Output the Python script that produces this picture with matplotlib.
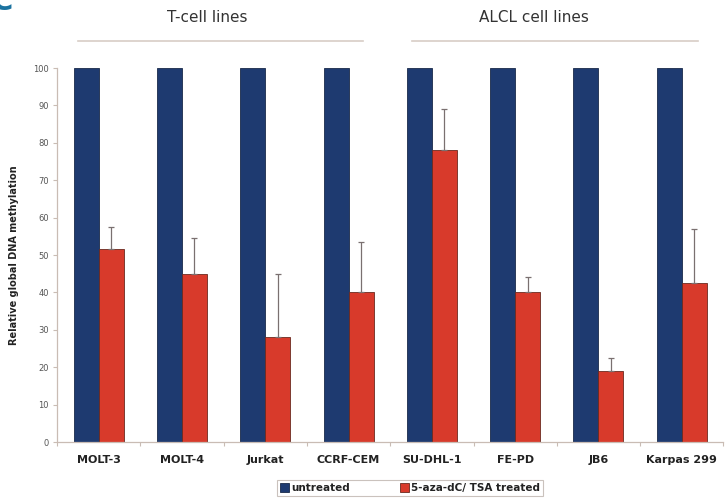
import numpy as np
import matplotlib.pyplot as plt
from matplotlib.lines import Line2D

cell_lines = ["MOLT-3", "MOLT-4", "Jurkat", "CCRF-CEM",
              "SU-DHL-1", "FE-PD", "JB6", "Karpas 299"]
untreated = [100, 100, 100, 100, 100, 100, 100, 100]
treated = [51.5, 45, 28, 40, 78, 40, 19, 42.5]
treated_err = [6, 9.5, 17, 13.5, 11, 4, 3.5, 14.5]
groups = ["T-cell lines", "ALCL cell lines"]

W, H = 728, 498
fig = plt.figure(figsize=(W / 100, H / 100), dpi=100)
ax = fig.add_axes([57 / W, 1 - 442 / H, 666.4 / W, 374 / H])

x = np.arange(len(cell_lines))
bw = 0.3
axis_col = "#c9bcb4"

ax.bar(x - bw / 2, untreated, bw, color="#1e3a70", edgecolor="#1a2a4a",
       linewidth=0.6, label="untreated", zorder=2)
ax.bar(x + bw / 2, treated, bw, color="#d83a2b", edgecolor="#6a2a20",
       linewidth=0.6, label="5-aza-dC/ TSA treated", zorder=2)
ax.errorbar(x + bw / 2, treated, yerr=[np.zeros(len(treated)), treated_err],
            fmt="none", ecolor="#7a7070", elinewidth=0.9, capsize=2,
            capthick=0.9, zorder=3)

ax.set_xlim(-0.5, len(cell_lines) - 0.5)
ax.set_ylim(0, 100)
ax.set_yticks(range(0, 101, 10))
ax.tick_params(axis="y", labelsize=6, colors=axis_col, labelcolor="#555555",
               length=3, width=0.8, pad=3)
ax.set_xticks(x)
ax.set_xticklabels(cell_lines, fontsize=8, fontweight="bold", color="#222222")
ax.tick_params(axis="x", length=0, pad=9)
ax.set_xticks(np.arange(-0.5, len(cell_lines), 1), minor=True)
ax.tick_params(axis="x", which="minor", length=3, width=0.8, colors=axis_col)

for s in ["top", "right"]:
    ax.spines[s].set_visible(False)
for s in ["left", "bottom"]:
    ax.spines[s].set_color(axis_col)
    ax.spines[s].set_linewidth(0.9)

ax.set_ylabel("Relative global DNA methylation", fontsize=7, fontweight="bold",
              color="#222222", labelpad=10)

# group headers with lines
fig.text(207 / W, 1 - 18 / H, groups[0], ha="center", va="center",
         fontsize=11, color="#333333")
fig.text(534 / W, 1 - 18 / H, groups[1], ha="center", va="center",
         fontsize=11, color="#333333")
fig.add_artist(Line2D([78 / W, 363 / W], [1 - 41 / H] * 2, color="#d8cdc6", lw=1.2))
fig.add_artist(Line2D([412 / W, 698 / W], [1 - 41 / H] * 2, color="#d8cdc6", lw=1.2))

# panel letter, cropped at the top-left corner like in the source
fig.text(2 / W, 1 - 10 / H, "C", ha="center", va="baseline", fontsize=22,
         fontweight="bold", color="#1b73a0")

leg = fig.legend(loc="center", bbox_to_anchor=(410 / W, 1 - 488 / H), ncol=2,
                 frameon=True, fancybox=False, handlelength=0.9,
                 handleheight=0.9, handletextpad=0.2, columnspacing=4.8,
                 borderpad=0.25, prop={"weight": "bold", "size": 7.5})
leg.get_frame().set_edgecolor("#bdb3ad")
leg.get_frame().set_linewidth(0.8)
for t in leg.get_texts():
    t.set_color("#222222")

fig.savefig("out.png", dpi=100)
